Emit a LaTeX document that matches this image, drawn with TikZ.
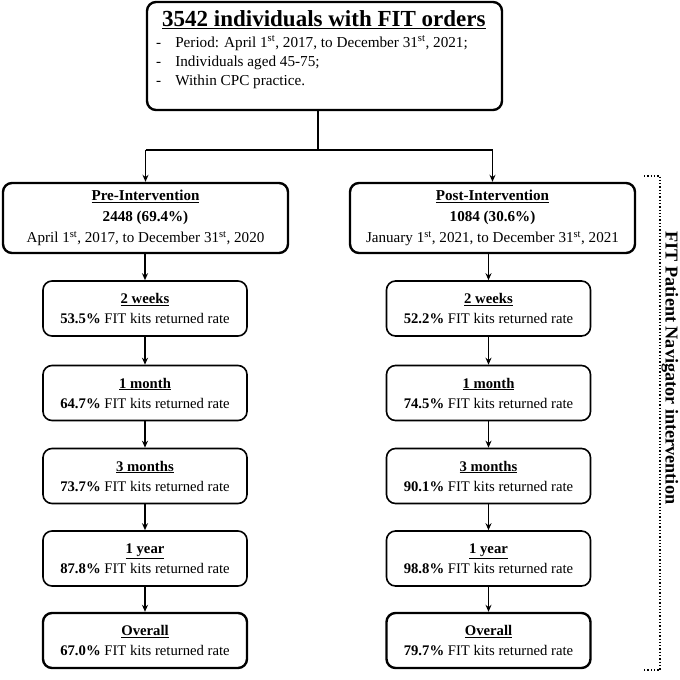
\documentclass[tikz,border=0pt]{standalone}
\usepackage{fontspec}
\setmainfont{Liberation Serif}
\usetikzlibrary{arrows.meta}
\begin{document}
\begin{tikzpicture}[x=1pt,y=-1pt,
  box/.style={draw, rounded corners=9pt, line width=1.6pt, align=center, inner sep=0pt},
  bigbox/.style={box, line width=2.4pt},
  small/.style={box, minimum width=204pt, minimum height=55pt, font=\fontsize{14.7}{20}\selectfont},
  smallthick/.style={small, line width=2.4pt},
  arr/.style={-{Stealth[length=7pt,width=6pt]}, line width=1.3pt},
  ln/.style={line width=1.3pt}]
\useasboundingbox (0,0) rectangle (680,680);
\fill[white] (0,0) rectangle (680,680);

% top box
\node[bigbox, minimum width=355pt, minimum height=108pt] (top) at (324.5,56) {};
\node[anchor=north west, align=left, inner sep=0pt, font=\fontsize{15.2}{19}\selectfont] (toptext) at (162,10)
  {{\fontsize{23}{24}\selectfont\bfseries\underline{3542 individuals with FIT orders}}\\[2pt]
   \hspace{-6pt}-\hspace{14pt}Period: April 1\textsuperscript{st}, 2017, to December 31\textsuperscript{st}, 2021;\\
   \hspace{-6pt}-\hspace{14pt}Individuals aged 45-75;\\
   \hspace{-6pt}-\hspace{14pt}Within CPC practice.};

% intervention boxes
\node[bigbox, minimum width=285pt, minimum height=70pt, font=\fontsize{15.1}{21}\selectfont] (pre) at (145.5,218)
  {{\bfseries\underline{Pre-Intervention}}\\ {\bfseries 2448 (69.4\%)}\\ April 1\textsuperscript{st}, 2017, to December 31\textsuperscript{st}, 2020};
\node[bigbox, minimum width=285pt, minimum height=70pt, font=\fontsize{15.1}{21}\selectfont] (post) at (492.5,218)
  {{\bfseries\underline{Post-Intervention}}\\ {\bfseries 1084 (30.6\%)}\\ January 1\textsuperscript{st}, 2021, to December 31\textsuperscript{st}, 2021};

% split connector
\coordinate (split) at (318,150);
\coordinate (sl) at (145.5,150);
\coordinate (sr) at (492.5,150);
\draw[ln] (top.south -| split) -- (split);
\draw[ln] (sl) -- (sr);
\draw[arr] (sl) -- (pre.north);
\draw[arr] (sr) -- (post.north);

% pre column
\node[small] (p1) at (145,308.5) {{\bfseries\underline{2 weeks}}\\ {\bfseries 53.5\%} FIT kits returned rate};
\node[small] (p2) at (145,393) {{\bfseries\underline{1 month}}\\ {\bfseries 64.7\%} FIT kits returned rate};
\node[small] (p3) at (145,476) {{\bfseries\underline{3 months}}\\ {\bfseries 73.7\%} FIT kits returned rate};
\node[small] (p4) at (145,558.5) {{\bfseries\underline{1 year}}\\ {\bfseries 87.8\%} FIT kits returned rate};
\node[smallthick] (p5) at (145,640.5) {{\bfseries\underline{Overall}}\\ {\bfseries 67.0\%} FIT kits returned rate};

% post column
\node[small] (q1) at (488.5,308.5) {{\bfseries\underline{2 weeks}}\\ {\bfseries 52.2\%} FIT kits returned rate};
\node[small] (q2) at (488.5,393) {{\bfseries\underline{1 month}}\\ {\bfseries 74.5\%} FIT kits returned rate};
\node[small] (q3) at (488.5,476) {{\bfseries\underline{3 months}}\\ {\bfseries 90.1\%} FIT kits returned rate};
\node[small] (q4) at (488.5,558.5) {{\bfseries\underline{1 year}}\\ {\bfseries 98.8\%} FIT kits returned rate};
\node[smallthick] (q5) at (488.5,640.5) {{\bfseries\underline{Overall}}\\ {\bfseries 79.7\%} FIT kits returned rate};

\draw[arr] (pre.south -| p1) -- (p1);
\draw[arr] (p1) -- (p2);
\draw[arr] (p2) -- (p3);
\draw[arr] (p3) -- (p4);
\draw[arr] (p4) -- (p5);
\draw[arr] (post.south -| q1) -- (q1);
\draw[arr] (q1) -- (q2);
\draw[arr] (q2) -- (q3);
\draw[arr] (q3) -- (q4);
\draw[arr] (q4) -- (q5);

% bracket
\coordinate (b1) at (644,176);
\coordinate (b2) at (660,176);
\coordinate (b3) at (660,670);
\coordinate (b4) at (644,670);
\draw[line width=1.3pt, dotted] (b1) -- (b2) -- (b3) -- (b4);
\node[rotate=-90, font=\fontsize{18.2}{20}\selectfont\bfseries, inner sep=0pt] (lbl) at (670,368) {FIT Patient Navigator intervention};
\end{tikzpicture}
\end{document}
